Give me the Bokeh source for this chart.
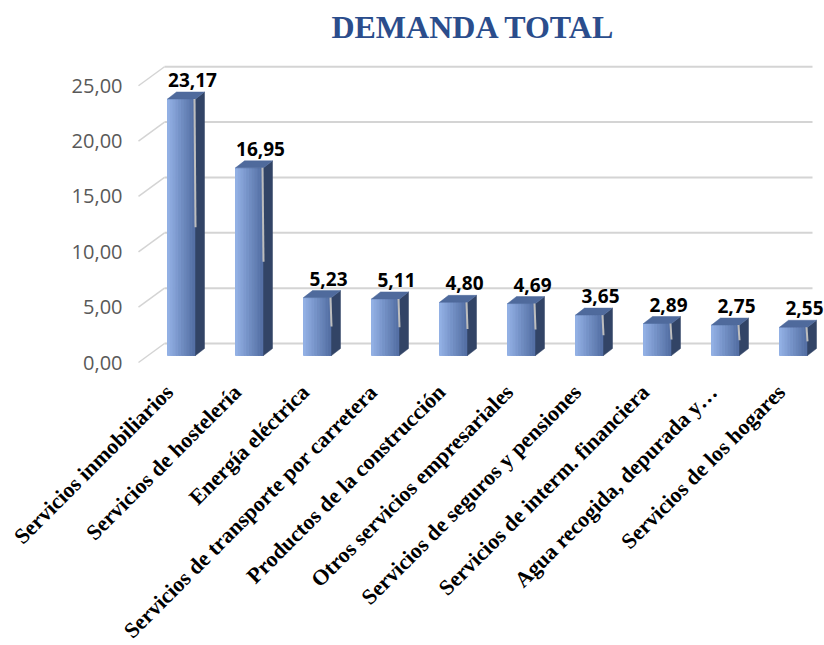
import math
import numpy as np
from bokeh.plotting import figure
from bokeh.models import Range1d, ColumnDataSource
from bokeh.core.properties import value
from bokeh.embed import file_html
from bokeh.resources import INLINE

# ---------------- data ----------------
categories = [
    "Servicios inmobiliarios",
    "Servicios de hostelería",
    "Energía eléctrica",
    "Servicios de transporte por carretera",
    "Productos de la construcción",
    "Otros servicios empresariales",
    "Servicios de seguros y pensiones",
    "Servicios de interm. financiera",
    "Agua recogida, depurada y…",
    "Servicios de los hogares",
]
values = [23.17, 16.95, 5.23, 5.11, 4.80, 4.69, 3.65, 2.89, 2.75, 2.55]
y_ticks = [0, 5, 10, 15, 20, 25]
y_tick_labels = ["0,00", "5,00", "10,00", "15,00", "20,00", "25,00"]
title_text = "DEMANDA TOTAL"

# ---------------- geometry (styling) ----------------
W, H = 824, 645
PX_X, PX_Y = 68.0, 11.07      # pixels per category / per unit
X0_PX, Y0_PX = 181, 362       # pixel position of first category / value 0
x_start = -X0_PX / PX_X
x_end = (W - X0_PX) / PX_X
y_end = Y0_PX / PX_Y
y_start = -(H - Y0_PX) / PX_Y

def px_x(px):   # horizontal pixel offset -> data units
    return px / PX_X

def px_y(px):   # vertical pixel offset -> data units
    return px / PX_Y

axis_x = x_start + px_x(138)
grid_end = x_start + px_x(812)
bar_w = px_x(28)
depth_dx = px_x(9)
depth_dy = px_y(7)
base = px_y(7)            # bars sit slightly behind the axis plane
wall_dx = px_x(26)
wall_dy = px_y(19)

p = figure(width=W, height=H, output_backend="svg", toolbar_location=None,
           title=None, x_axis_location=None, y_axis_location=None,
           x_range=Range1d(x_start, x_end), y_range=Range1d(y_start, y_end),
           min_border=0, background_fill_color="white",
           border_fill_color="white")
p.outline_line_color = None
p.grid.visible = False

# back wall gridlines + slanted depth lines
grid_c = "#D4D4D4"
n_t = len(y_ticks)
p.segment(x0=[axis_x + wall_dx] * n_t, y0=[t + wall_dy for t in y_ticks],
          x1=[grid_end] * n_t, y1=[t + wall_dy for t in y_ticks],
          line_color=grid_c, line_width=2)
p.segment(x0=[axis_x] * n_t, y0=y_ticks,
          x1=[axis_x + wall_dx] * n_t, y1=[t + wall_dy for t in y_ticks],
          line_color=grid_c, line_width=1.5)

# y tick labels
ytl_src = ColumnDataSource(dict(x=[axis_x - px_x(16)] * n_t, y=y_ticks, t=y_tick_labels))
p.text(x="x", y="y", text="t", source=ytl_src, text_font=value("Open Sans"),
       text_font_size="20px", text_color="#595959",
       text_align="right", text_baseline="middle")

# bars with simulated gradient
xs = np.arange(len(values), dtype=float)
vals = np.array(values)
n_strips = 10
c_left = np.array([0x92, 0xB0, 0xE4])
c_right = np.array([0x55, 0x70, 0xA6])
for k in range(n_strips):
    t = k / (n_strips - 1)
    c = (c_left * (1 - t) + c_right * t).astype(int)
    col = "#%02x%02x%02x" % tuple(c)
    l = xs - bar_w / 2 + bar_w * k / n_strips
    r = xs - bar_w / 2 + bar_w * (k + 1) / n_strips
    p.quad(left=l, right=r, bottom=[base] * len(values), top=vals + base,
           fill_color=col, line_color=col, line_width=1)

side_x, side_y, top_x, top_y = [], [], [], []
for x, v in zip(xs, vals):
    l, r = x - bar_w / 2, x + bar_w / 2
    side_x.append([r, r + depth_dx, r + depth_dx, r])
    side_y.append([base, base + depth_dy, v + base + depth_dy, v + base])
    top_x.append([l, l + depth_dx, r + depth_dx, r])
    top_y.append([v + base, v + base + depth_dy, v + base + depth_dy, v + base])
p.patches(side_x, side_y, fill_color="#324466", line_color="#324466", line_width=0.5)
p.patches(top_x, top_y, fill_color="#4F6A9C", line_color="#4F6A9C", line_width=0.5)

# leader lines (label -> bar middle)
p.segment(x0=xs + px_x(13), y0=vals + base, x1=xs + px_x(14), y1=vals / 2 + base,
          line_color="#BDBDBD", line_width=2)

# value labels
lab_src = ColumnDataSource(dict(
    x=xs + px_x(11), y=vals + base + px_y(19),
    t=[("%.2f" % v).replace(".", ",") for v in values]))
p.text(x="x", y="y", text="t", source=lab_src, text_font=value("Open Sans"),
       text_font_style="bold", text_font_size="19px", text_color="black",
       text_align="center", text_baseline="middle")

# category labels (rotated)
cat_src = ColumnDataSource(dict(x=xs - px_x(21), y=[-px_y(17)] * len(categories),
                                t=categories))
p.text(x="x", y="y", text="t", source=cat_src, angle=math.pi / 4,
       text_align="right", text_baseline="top",
       text_font=value("Liberation Serif"), text_font_style="bold",
       text_font_size="22px", text_color="black")

# title
title_src = ColumnDataSource(dict(x=[x_start + px_x(473)], y=[y_end - px_y(26)], t=[title_text]))
p.text(x="x", y="y", text="t", source=title_src, text_font=value("Liberation Serif"),
       text_font_style="bold", text_font_size="32px", text_color="#2B4D8C",
       text_align="center", text_baseline="middle")

open("out.html", "w").write(file_html(p, INLINE))
